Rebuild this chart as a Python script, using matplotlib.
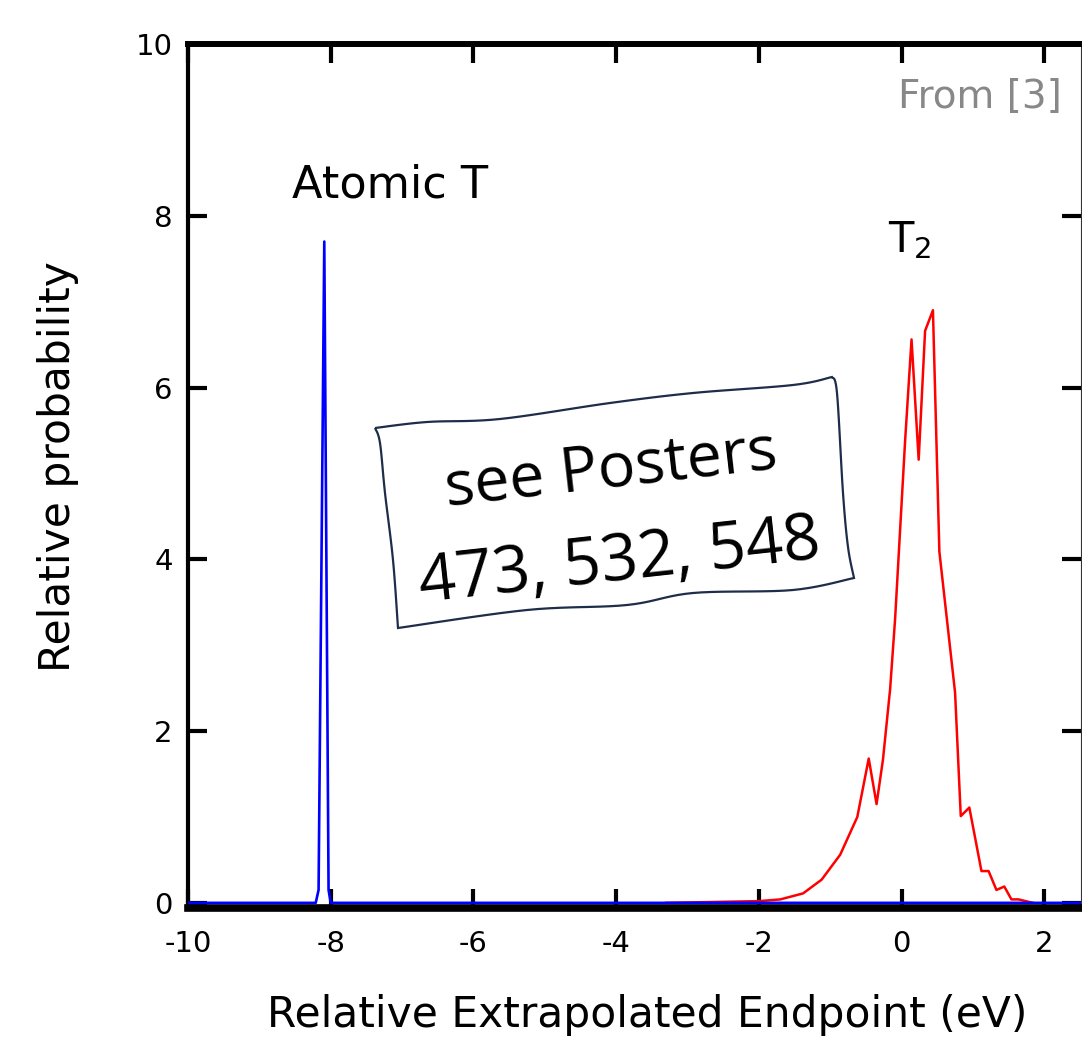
import numpy as np
import matplotlib
matplotlib.use("Agg")
import matplotlib.pyplot as plt
from matplotlib.path import Path
from matplotlib.patches import PathPatch

plt.rcParams["axes.unicode_minus"] = False

# atomic tritium line and molecular T2 final-state spread
atomic_x = [-10.0, -8.21, -8.17, -8.09, -8.03, -8.0, 2.5]
atomic_y = [0.0, 0.0, 0.15, 7.7, 0.15, 0.0, 0.0]

mol_x = [-3.3, -2.0, -1.70, -1.38, -1.12, -0.86, -0.62, -0.46, -0.35, -0.26,
         -0.16, -0.09, 0.05, 0.14, 0.24, 0.33, 0.44, 0.53, 0.75, 0.83, 0.95,
         1.12, 1.22, 1.33, 1.44, 1.54, 1.64, 1.84]
mol_y = [0.0, 0.02, 0.04, 0.11, 0.27, 0.56, 1.00, 1.68, 1.15, 1.67,
         2.49, 3.31, 5.38, 6.56, 5.16, 6.66, 6.90, 4.09, 2.45, 1.01, 1.11,
         0.37, 0.37, 0.15, 0.19, 0.04, 0.04, 0.0]

x_ticks = [-10, -8, -6, -4, -2, 0, 2]
y_ticks = [0, 2, 4, 6, 8, 10]

W, H = 1082, 1046
fig = plt.figure(figsize=(W / 100, H / 100), dpi=100)
ax = fig.add_axes([188 / W, 1 - 908 / H, (1081 - 188) / W, (908 - 44) / H])

ax.plot(mol_x, mol_y, color="red", lw=1.8, zorder=3)
ax.plot(atomic_x, atomic_y, color="blue", lw=1.9, zorder=4)

ax.set_xlim(-10, 2.515)
ax.set_ylim(-0.06, 10)
ax.set_xticks(x_ticks)
ax.set_yticks(y_ticks)
ax.tick_params(direction="in", length=14, width=3, top=True, right=True,
               labelsize=21, colors="black")
ax.tick_params(axis="x", pad=16)
ax.tick_params(axis="y", pad=11)
ax.spines["left"].set_linewidth(3)
ax.spines["bottom"].set_linewidth(5.5)
ax.spines["top"].set_linewidth(4.3)
ax.spines["right"].set_linewidth(0.8)
ax.spines["right"].set_color("#333333")

ax.set_xlabel("Relative Extrapolated Endpoint (eV)", fontsize=30.5)
ax.set_ylabel("Relative probability", fontsize=30.5)
ax.xaxis.set_label_coords(647 / W, 1 - 1015 / H, transform=fig.transFigure)
ax.yaxis.set_label_coords(58 / W, 1 - 467 / H, transform=fig.transFigure)
ax.xaxis.label.set_va("center")
ax.yaxis.label.set_va("center")

ax.text(-7.17, 8.36, "Atomic T", fontsize=32, ha="center", va="center")
ax.text(0.12, 7.72, r"$\mathregular{T_2}$", fontsize=30, ha="center", va="center")
ax.text(0.979, 0.9387, "From [3]", transform=ax.transAxes, fontsize=28,
        color="#888888", ha="right", va="center")


def edge(pts, n=10):
    # open Catmull-Rom through one side of the frame
    pts = np.asarray(pts, float)
    pts = np.vstack([pts[0], pts, pts[-1]])
    out = []
    for i in range(1, len(pts) - 2):
        p0, p1, p2, p3 = pts[i - 1], pts[i], pts[i + 1], pts[i + 2]
        for t in np.linspace(0, 1, n, endpoint=False):
            t2, t3 = t * t, t * t * t
            out.append(0.5 * ((2 * p1) + (-p0 + p2) * t
                              + (2 * p0 - 5 * p1 + 4 * p2 - p3) * t2
                              + (-p0 + 3 * p1 - 3 * p2 + p3) * t3))
    return out


# hand-drawn note frame, figure pixels
top = [(375, 428), (427, 422), (500, 419), (610, 403), (693, 393), (793, 385), (832, 377)]
right = [(832, 377), (837, 393), (843, 493), (848, 547), (854, 578)]
bottom = [(854, 578), (793, 590), (693, 593), (627, 605), (527, 610), (398, 628)]
left = [(398, 628), (393, 560), (385, 493), (380, 443), (375, 428)]
outline = np.array(edge(top) + edge(right) + edge(bottom) + edge(left) + [top[0]])
outline[:, 0] /= W
outline[:, 1] = 1 - outline[:, 1] / H
fig.patches.append(PathPatch(Path(outline), transform=fig.transFigure,
                             facecolor="white", edgecolor="#1f2d4a", lw=1.6,
                             zorder=5))
fig.text(611 / W, 1 - 470 / H, "see Posters", fontsize=45, family="Open Sans",
         rotation=6.5, ha="center", va="center", rotation_mode="anchor", zorder=6)
fig.text(620 / W, 1 - 563 / H, "473, 532, 548", fontsize=47, family="Open Sans",
         rotation=6.3, ha="center", va="center", rotation_mode="anchor", zorder=6)

fig.savefig("out.png", dpi=100)
